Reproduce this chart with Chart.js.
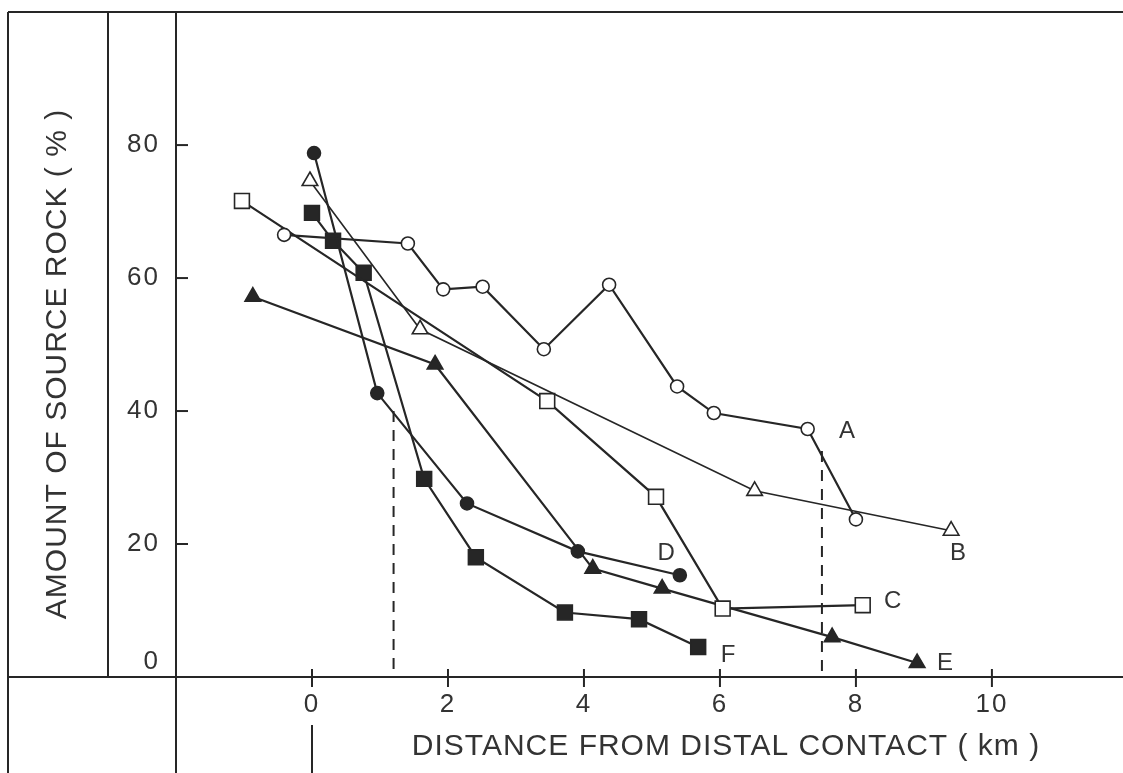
<!DOCTYPE html>
<html>
<head>
<meta charset="utf-8">
<script src="https://cdn.jsdelivr.net/npm/chart.js@4/dist/chart.umd.min.js"></script>
<style>
  html, body { margin: 0; padding: 0; background: #fff; }
  #wrap { width: 1123px; height: 773px; }
</style>
</head>
<body>
<div id="wrap"><canvas id="chart" width="1123" height="773"></canvas></div>
<script>
// Distance from distal contact (km) / amount of source rock (%) for each traverse
const aX = [-0.41, 1.41, 1.93, 2.51, 3.41, 4.37, 5.37, 5.91, 7.29, 8.0];
const aY = [66.5, 65.2, 58.3, 58.7, 49.3, 59.0, 43.7, 39.7, 37.3, 23.7];

const bX = [-0.03, 1.59, 6.51, 9.40];
const bY = [74.6, 52.3, 28.0, 22.0];

const cX = [-1.03, 3.46, 5.06, 6.04, 8.10];
const cY = [71.6, 41.5, 27.1, 10.3, 10.8];

const dX = [0.03, 0.96, 2.28, 3.91, 5.41];
const dY = [78.8, 42.7, 26.1, 18.9, 15.3];

const eX = [-0.87, 1.81, 4.13, 5.15, 7.65, 8.90];
const eY = [57.2, 47.0, 16.3, 13.3, 6.0, 2.1];

const fX = [0.0, 0.31, 0.76, 1.65, 2.41, 3.72, 4.81, 5.68];
const fY = [69.8, 65.6, 60.8, 29.8, 18.0, 9.7, 8.7, 4.5];

// dashed verticals (x position, top value)
const dashX = [1.2, 7.5];
const dashTop = [40, 34];

// curve letters and where they sit
const curveNames = ['A', 'B', 'C', 'D', 'E', 'F'];
const curveNameX = [7.87, 9.5, 8.54, 5.21, 9.31, 6.12];
const curveNameY = [37.0, 18.6, 11.4, 18.6, 2.1, 3.3];

const xTicks = [0, 2, 4, 6, 8, 10];
const yTicks = [0, 20, 40, 60, 80];

const xTitle = 'DISTANCE FROM DISTAL CONTACT ( km )';
const yTitle = 'AMOUNT OF SOURCE ROCK ( % )';

const INK = '#262626';
const TEXT = '#333';
const FONT = "'Liberation Sans', Arial, sans-serif";

function pairs(xs, ys) {
  return xs.map((x, i) => ({ x, y: ys[i] }));
}

function curve(xs, ys, style, radius, filled, width) {
  return {
    data: pairs(xs, ys),
    showLine: true,
    borderColor: INK,
    borderWidth: width,
    pointStyle: style,
    pointRadius: radius,
    pointBorderWidth: 1.6,
    pointBorderColor: INK,
    pointBackgroundColor: filled ? INK : '#fff'
  };
}

const datasets = [
  curve(aX, aY, 'circle', 6.5, false, 2.2),
  curve(bX, bY, 'triangle', 9, false, 1.6),
  curve(cX, cY, 'rect', 10.5, false, 2.2),
  curve(dX, dY, 'circle', 6.5, true, 2.2),
  curve(eX, eY, 'triangle', 9, true, 2.2),
  curve(fX, fY, 'rect', 10.5, true, 2.2)
];

dashX.forEach((x, i) => {
  datasets.push({
    data: [{ x, y: dashTop[i] }, { x, y: 0 }],
    showLine: true,
    borderColor: INK,
    borderWidth: 2,
    borderDash: [11, 8],
    pointRadius: 0
  });
});

// frame lines, inward ticks, curve letters and axis titles
const framePlugin = {
  id: 'frame',
  beforeDraw(chart) {
    chart.ctx.letterSpacing = '2px';
  },
  afterDraw(chart) {
    const ctx = chart.ctx;
    const xs = chart.scales.x;
    const ys = chart.scales.y;
    const W = chart.width;
    const H = chart.height;
    const axisX = xs.getPixelForValue(-2);
    const axisY = ys.getPixelForValue(0);
    const top = ys.getPixelForValue(100);

    ctx.save();
    ctx.strokeStyle = INK;
    ctx.lineWidth = 2;
    const seg = (x1, y1, x2, y2) => {
      ctx.beginPath();
      ctx.moveTo(x1, y1);
      ctx.lineTo(x2, y2);
      ctx.stroke();
    };
    seg(8, top, W, top);
    seg(8, top, 8, H);
    seg(108, top, 108, axisY);
    seg(axisX, top, axisX, H);
    seg(8, axisY, W, axisY);
    seg(xs.getPixelForValue(0), 725, xs.getPixelForValue(0), H);

    xTicks.forEach(v => {
      const px = xs.getPixelForValue(v);
      seg(px, axisY - 8, px, axisY + 10);
    });
    yTicks.forEach(v => {
      if (v === 0) return;
      const py = ys.getPixelForValue(v);
      seg(axisX, py, axisX + 12, py);
    });

    ctx.fillStyle = TEXT;
    ctx.textAlign = 'center';
    ctx.textBaseline = 'middle';
    ctx.letterSpacing = '0px';
    ctx.font = '24px ' + FONT;
    curveNames.forEach((name, i) => {
      ctx.fillText(name, xs.getPixelForValue(curveNameX[i]), ys.getPixelForValue(curveNameY[i]));
    });

    ctx.letterSpacing = '1px';
    ctx.font = '30px ' + FONT;
    ctx.fillText(xTitle, 726, 747);

    ctx.translate(58, 364);
    ctx.rotate(-Math.PI / 2);
    ctx.font = '30px ' + FONT;
    ctx.fillText(yTitle, 0, 0);
    ctx.restore();
  }
};

new Chart(document.getElementById('chart'), {
  type: 'scatter',
  data: { datasets },
  plugins: [framePlugin],
  options: {
    responsive: false,
    animation: false,
    layout: { padding: { top: 11, right: 0, left: 0, bottom: 0 } },
    plugins: {
      legend: { display: false },
      tooltip: { enabled: false }
    },
    scales: {
      x: {
        type: 'linear',
        min: -2,
        max: 11.75,
        grid: { display: false, drawTicks: false },
        border: { display: false },
        ticks: {
          stepSize: 2,
          padding: 12,
          maxRotation: 0,
          autoSkip: false,
          color: TEXT,
          font: { family: FONT, size: 26 },
          callback: v => xTicks.includes(v) ? String(v) : null
        },
        afterFit: scale => {
          scale.height = 96;
          scale.paddingLeft = 0;
          scale.paddingRight = 0;
        }
      },
      y: {
        type: 'linear',
        min: 0,
        max: 100,
        grid: { display: false, drawTicks: false },
        border: { display: false },
        ticks: {
          stepSize: 20,
          padding: 16,
          autoSkip: false,
          color: TEXT,
          font: { family: FONT, size: 26 },
          callback: v => v === 0 ? ['0', ''] : (yTicks.includes(v) ? String(v) : null)
        },
        afterFit: scale => {
          scale.width = 176;
          scale.paddingTop = 0;
          scale.paddingBottom = 0;
        }
      }
    }
  }
});
</script>
</body>
</html>
